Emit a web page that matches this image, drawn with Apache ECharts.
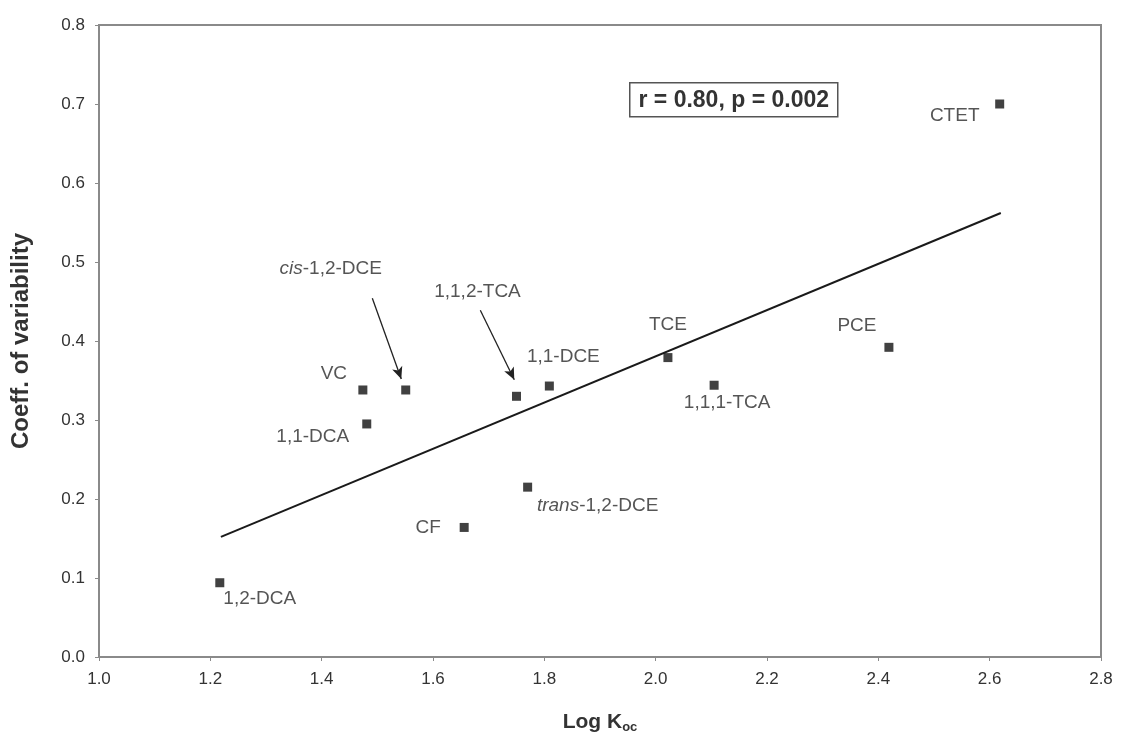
<!DOCTYPE html>
<html>
<head>
<meta charset="utf-8">
<script src="https://cdn.jsdelivr.net/npm/echarts@6/dist/echarts.min.js"></script>
<style>html,body{margin:0;padding:0;background:#fff}#c{width:1123px;height:747px}</style>
</head>
<body>
<div id="c"></div>
<script>
const names = ['1,2-DCA','CF','trans-1,2-DCE','1,1-DCA','VC','cis-1,2-DCE','1,1,2-TCA','1,1-DCE','TCE','1,1,1-TCA','PCE','CTET'];
const logKoc = [1.217,1.656,1.770,1.481,1.474,1.551,1.750,1.809,2.022,2.105,2.419,2.618];
const cov = [0.094,0.164,0.215,0.295,0.338,0.338,0.330,0.343,0.379,0.344,0.392,0.700];
const trendX = [1.219,2.62];
const trendY = [0.152,0.562];
const arrowFrom = [[1.491,0.454],[1.685,0.439]];
const arrowTo = [[1.543,0.352],[1.746,0.351]];
const xTicks = [1.0,1.2,1.4,1.6,1.8,2.0,2.2,2.4,2.6,2.8];
const yTicks = [0.0,0.1,0.2,0.3,0.4,0.5,0.6,0.7,0.8];
const stats = 'r = 0.80, p = 0.002';

// label placement (style only)
const labelOff = {
 '1,2-DCA':[40,16],'CF':[-36,0],'trans-1,2-DCE':[70,19],'1,1-DCA':[-54,13],'VC':[-29,-16],
 'cis-1,2-DCE':[-75,-121],'1,1,2-TCA':[-39,-105],'1,1-DCE':[14,-29],'TCE':[0,-33],
 '1,1,1-TCA':[13,18],'PCE':[-32,-22],'CTET':[-45,12]
};
const italicPrefix = {'cis-1,2-DCE':['cis','-1,2-DCE'],'trans-1,2-DCE':['trans','-1,2-DCE']};

const font = 'Liberation Sans, Arial, sans-serif';
const pts = names.map((n,i)=>{
  const ip = italicPrefix[n];
  return {
    value:[logKoc[i],cov[i]], name:n,
    label:{show:true, position:'inside', offset:labelOff[n],
      formatter: ip ? '{i|'+ip[0]+'}{n|'+ip[1]+'}' : '{n|'+n+'}',
      rich:{i:{fontStyle:'italic',fontSize:19,color:'#2a2a2a',fontFamily:font},n:{fontSize:19,color:'#2a2a2a',fontFamily:font}}
    }
  };
});

const chart = echarts.init(document.getElementById('c'));
chart.setOption({
  animation:false,
  grid:{left:99,right:22,top:25,bottom:90,show:true,borderColor:'#8a8a8a',borderWidth:2},
  xAxis:{type:'value',min:1.0,max:2.8,interval:0.2,
    axisLine:{show:true,lineStyle:{color:'#8a8a8a',width:2}},
    axisTick:{show:true,length:4,lineStyle:{color:'#8a8a8a'}},
    splitLine:{show:false},
    axisLabel:{color:'#333',fontSize:17,fontFamily:font,margin:14,formatter:v=>v.toFixed(1)},
    name:'{a|Log K}{b|oc}',nameLocation:'middle',nameGap:54,
    nameTextStyle:{rich:{a:{fontSize:21,fontWeight:'bold',color:'#333',fontFamily:font},b:{fontSize:13,fontWeight:'bold',color:'#333',fontFamily:font,verticalAlign:'bottom',padding:[10,0,0,0]}}}
  },
  yAxis:{type:'value',min:0,max:0.8,interval:0.1,
    axisLine:{show:true,lineStyle:{color:'#8a8a8a',width:2}},
    axisTick:{show:true,length:4,lineStyle:{color:'#8a8a8a'}},
    splitLine:{show:false},
    axisLabel:{color:'#333',fontSize:17,fontFamily:font,margin:14,formatter:v=>v.toFixed(1)},
    name:'Coeff. of variability',nameLocation:'middle',nameGap:66,
    nameTextStyle:{fontSize:24,fontWeight:'bold',color:'#333',fontFamily:font}
  },
  series:[
    {type:'line',data:trendX.map((x,i)=>[x,trendY[i]]),symbol:'none',
     lineStyle:{color:'#1a1a1a',width:2},silent:true,z:1},
    {type:'scatter',data:pts,symbol:'rect',symbolSize:9,itemStyle:{color:'#111'},z:3,
     markLine:{silent:true,symbol:['none','arrow'],symbolSize:[8,12],
       lineStyle:{color:'#222',width:1.3,type:'solid'},label:{show:false},
       data:arrowFrom.map((f,i)=>[{coord:f},{coord:arrowTo[i]}])}
    }
  ],
  graphic:[{type:'group',left:629,top:82,children:[
    {type:'rect',shape:{x:0,y:0,width:208,height:34},style:{fill:'#fff',stroke:'#555',lineWidth:1.5}},
    {type:'text',style:{x:104,y:18,text:stats,textAlign:'center',textVerticalAlign:'middle',
      font:'bold 23px '+font,fill:'#333'}}
  ]}]
});
</script>
</body>
</html>
